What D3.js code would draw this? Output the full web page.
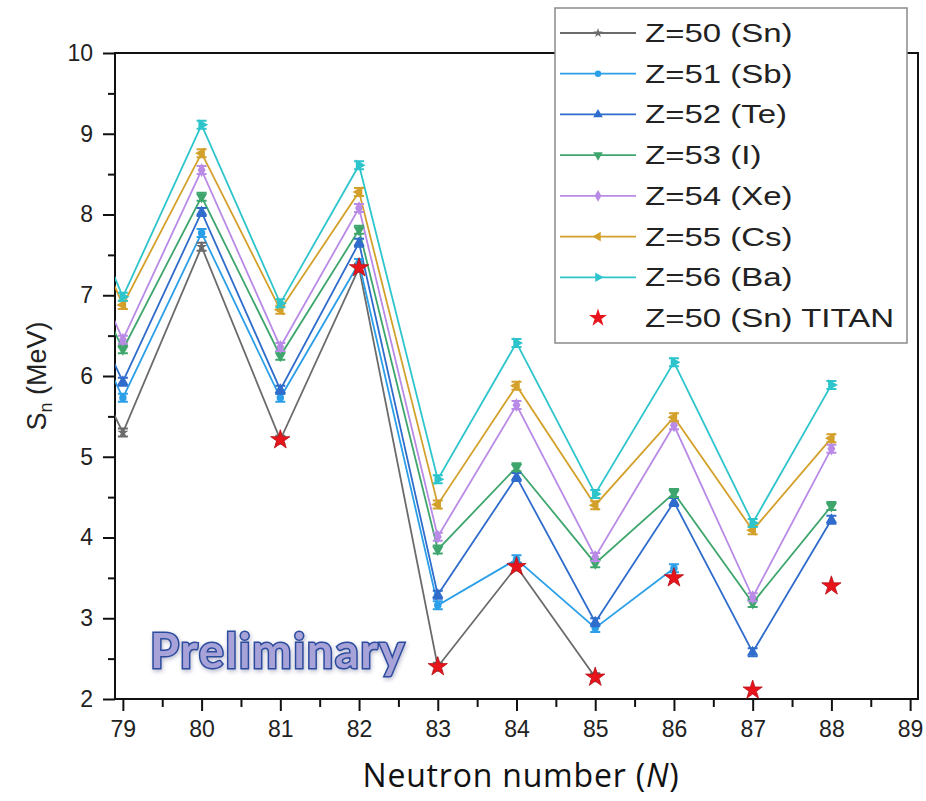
<!DOCTYPE html>
<html>
<head>
<meta charset="utf-8">
<script src="https://cdn.jsdelivr.net/npm/d3@7"></script>
<style>
  body { margin: 0; background: #fff; }
  svg { display: block; }
  .tick text { font-family: "Liberation Sans", Arial, sans-serif; font-size: 23px; fill: #222; }
</style>
</head>
<body>
<svg id="chart" width="926" height="801"></svg>
<script>
// neutron numbers (78 lies just off the left edge, lines are clipped)
const neutronN = [78, 79, 80, 81, 82, 83, 84, 85, 86, 87, 88];

// S_n values in MeV
const snVals = [7.3, 5.30, 7.60, 5.21, 7.34, 2.40, 3.64, 2.27, null, null, null];
const sbVals = [7.8, 5.73, 7.77, 5.73, 7.40, 3.16, 3.73, 2.88, 3.62, null, null];
const teVals = [8.0, 5.93, 8.03, 5.83, 7.65, 3.29, 4.75, 2.95, 4.44, 2.58, 4.22];
const iVals  = [8.4, 6.33, 8.22, 6.25, 7.81, 3.85, 4.87, 3.68, 4.55, 3.19, 4.39];
const xeVals = [8.65, 6.45, 8.55, 6.36, 8.08, 4.01, 5.64, 3.76, 5.39, 3.26, 5.10];
const csVals = [9.1, 6.88, 8.76, 6.82, 8.28, 4.41, 5.88, 4.40, 5.49, 4.09, 5.23];
const baVals = [9.3, 6.98, 9.11, 6.90, 8.61, 4.72, 6.41, 4.54, 6.17, 4.18, 5.89];

// TITAN measurements
const titanN = [81, 82, 83, 84, 85, 86, 87, 88];
const titanVals = [5.21, 7.34, 2.40, 3.64, 2.27, 3.50, 2.11, 3.40];

const seriesLabels = ["Z=50 (Sn)", "Z=51 (Sb)", "Z=52 (Te)", "Z=53 (I)", "Z=54 (Xe)", "Z=55 (Cs)", "Z=56 (Ba)"];
const titanLabel = "Z=50 (Sn) TITAN";

const xTicks = [79, 80, 81, 82, 83, 84, 85, 86, 87, 88, 89];
const yTicks = [2, 3, 4, 5, 6, 7, 8, 9, 10];

const colors = ["#6b6b6b", "#2b9fe8", "#2f6ccc", "#3ea66d", "#b98ae6", "#d3a12b", "#2dc5cb"];
const markerType = ["star", "circle", "up", "down", "diamond", "left", "right"];
const titanColor = "#e8141c";

const seriesVals = [snVals, sbVals, teVals, iVals, xeVals, csVals, baVals];
const series = seriesVals.map(function(vals, i) {
  return {
    label: seriesLabels[i],
    color: colors[i],
    marker: markerType[i],
    points: neutronN.map(function(n, j) { return { n: n, v: vals[j] }; })
  };
});

const margin = { top: 53, right: 8, bottom: 102, left: 115 };
const W = 926, H = 801;
const plotW = W - margin.left - margin.right;
const plotH = H - margin.top - margin.bottom;

const svg = d3.select("#chart");

const x = d3.scaleLinear().domain([78.9, 89.1]).range([0, plotW]);
const y = d3.scaleLinear().domain([2, 10]).range([plotH, 0]);

const g = svg.append("g").attr("transform", "translate(" + margin.left + "," + margin.top + ")");

g.append("clipPath").attr("id", "clip")
  .append("rect").attr("width", plotW).attr("height", plotH);

// marker shape helper
function markerPath(type, size) {
  const tri = d3.symbol().type(d3.symbolTriangle).size(size)();
  if (type === "circle") return { d: d3.symbol().type(d3.symbolCircle).size(size * 0.8)(), rot: 0 };
  if (type === "diamond") return { d: d3.symbol().type(d3.symbolDiamond).size(size)(), rot: 0 };
  if (type === "star") return { d: d3.symbol().type(d3.symbolStar).size(size * 0.7)(), rot: 0 };
  if (type === "up") return { d: tri, rot: 0 };
  if (type === "down") return { d: tri, rot: 180 };
  if (type === "left") return { d: tri, rot: -90 };
  return { d: tri, rot: 90 };
}

// axes: minor then major ticks
const xMinor = d3.range(79.5, 89, 1);
const yMinor = d3.range(2.5, 10, 1);

function styleAxis(a) {
  a.select(".domain").remove();
  a.selectAll("line").attr("stroke", "#111").attr("stroke-width", 2);
}

g.append("g").attr("transform", "translate(0," + plotH + ")")
  .call(d3.axisBottom(x).tickValues(xMinor).tickSize(8).tickFormat(""))
  .call(styleAxis);

g.append("g").attr("transform", "translate(0," + plotH + ")")
  .call(d3.axisBottom(x).tickValues(xTicks).tickSize(12).tickPadding(10).tickFormat(d3.format("d")))
  .call(styleAxis);

g.append("g")
  .call(d3.axisLeft(y).tickValues(yMinor).tickSize(7).tickFormat(""))
  .call(styleAxis);

g.append("g")
  .call(d3.axisLeft(y).tickValues(yTicks).tickSize(12).tickPadding(10).tickFormat(d3.format("d")))
  .call(styleAxis);

// frame
g.append("rect")
  .attr("width", plotW).attr("height", plotH)
  .attr("fill", "none").attr("stroke", "#111").attr("stroke-width", 2);

// lines
const line = d3.line()
  .defined(function(d) { return d.v !== null; })
  .x(function(d) { return x(d.n); })
  .y(function(d) { return y(d.v); });

const plot = g.append("g").attr("clip-path", "url(#clip)");

series.forEach(function(s) {
  plot.append("path")
    .datum(s.points)
    .attr("fill", "none")
    .attr("stroke", s.color)
    .attr("stroke-width", 1.8)
    .attr("d", line);
});

// markers with small error-bar caps
series.forEach(function(s) {
  const m = markerPath(s.marker, 55);
  const pts = plot.selectAll(null)
    .data(s.points.filter(function(d) { return d.v !== null; }))
    .enter().append("g")
    .attr("transform", function(d) { return "translate(" + x(d.n) + "," + y(d.v) + ")"; });
  pts.append("path")
    .attr("d", "M-5,-4H5M-5,4H5M0,-4V4")
    .attr("stroke", s.color).attr("stroke-width", 2);
  pts.append("path")
    .attr("d", m.d)
    .attr("transform", "rotate(" + m.rot + ")")
    .attr("fill", s.color);
});

// TITAN stars
plot.selectAll(".titan")
  .data(titanN.map(function(n, i) { return { n: n, v: titanVals[i] }; }))
  .enter().append("path")
  .attr("class", "titan")
  .attr("transform", function(d) { return "translate(" + x(d.n) + "," + y(d.v) + ")"; })
  .attr("d", d3.symbol().type(d3.symbolStar).size(115))
  .attr("fill", titanColor)
  .attr("stroke", "#b80f16").attr("stroke-width", 0.8);

// axis titles
svg.append("text")
  .attr("x", 521).attr("y", 787)
  .attr("text-anchor", "middle")
  .attr("font-family", "'Open Sans', Lato, sans-serif")
  .attr("font-size", 32)
  .attr("letter-spacing", 0.8)
  .attr("fill", "#111")
  .html('Neutron number (<tspan font-style="italic">N</tspan>)');

const yTitle = svg.append("text")
  .attr("transform", "translate(46," + (margin.top + plotH / 2) + ") rotate(-90)")
  .attr("text-anchor", "middle")
  .attr("font-family", "'Liberation Sans', Arial, sans-serif")
  .attr("font-size", 27)
  .attr("fill", "#222");
yTitle.append("tspan").text("S");
yTitle.append("tspan").attr("font-size", 18).attr("dy", 6).text("n");
yTitle.append("tspan").attr("dy", -6).text(" (MeV)");

// Preliminary stamp
svg.append("text")
  .attr("x", 150).attr("y", 668)
  .attr("font-family", "Lato, 'Open Sans', sans-serif")
  .attr("font-weight", 700)
  .attr("font-size", 47)
  .attr("letter-spacing", 1.6)
  .attr("fill", "#a7a2d8")
  .attr("stroke", "#2b4c9e")
  .attr("stroke-width", 3)
  .attr("paint-order", "stroke")
  .style("filter", "drop-shadow(1px 2px 2px rgba(60,60,120,0.35))")
  .text("Preliminary");

// legend
const legend = svg.append("g");
legend.append("rect")
  .attr("x", 555).attr("y", 8).attr("width", 352).attr("height", 335)
  .attr("fill", "#fff").attr("stroke", "#8a8a8a").attr("stroke-width", 1.5);

const rowY = d3.scaleLinear().domain([0, 7]).range([33, 318]);

function legendText(row, label) {
  // the source legend text is horizontally wide; stretch it
  row.append("text")
    .attr("transform", "translate(645,9) scale(1.32,1)")
    .attr("font-family", "'Liberation Sans', Arial, sans-serif")
    .attr("font-size", 25).attr("fill", "#222")
    .text(label);
}

series.forEach(function(s, i) {
  const row = legend.append("g").attr("transform", "translate(0," + rowY(i) + ")");
  row.append("line").attr("x1", 560).attr("x2", 636)
    .attr("stroke", s.color).attr("stroke-width", 1.8);
  const m = markerPath(s.marker, 40);
  row.append("path").attr("d", m.d)
    .attr("transform", "translate(598,0) rotate(" + m.rot + ")")
    .attr("fill", s.color);
  legendText(row, s.label);
});

const tRow = legend.append("g").attr("transform", "translate(0," + rowY(7) + ")");
tRow.append("path")
  .attr("d", d3.symbol().type(d3.symbolStar).size(100))
  .attr("transform", "translate(598,0)")
  .attr("fill", titanColor);
legendText(tRow, titanLabel);
</script>
</body>
</html>
